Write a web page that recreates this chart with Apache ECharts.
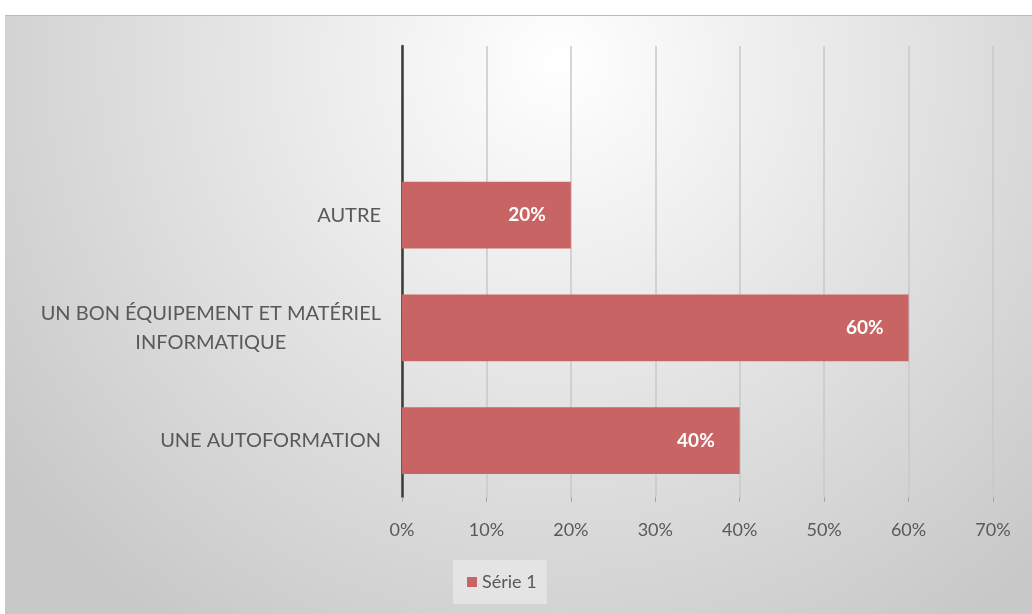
<!DOCTYPE html>
<html>
<head>
<meta charset="utf-8">
<script src="https://cdn.jsdelivr.net/npm/echarts@6/dist/echarts.min.js"></script>
<style>
  html, body { margin: 0; padding: 0; background: #fff; }
  #chart {
    position: absolute;
    left: 5px;
    top: 15px;
    width: 1027px;
    height: 599px;
    border-top: 1px solid #b8b8b8;
    box-sizing: border-box;
  }
</style>
</head>
<body>
<div id="chart"></div>
<script>
const categories = [
  'UNE AUTOFORMATION',
  'UN BON ÉQUIPEMENT ET MATÉRIEL\nINFORMATIQUE',
  'AUTRE',
  ''
]
const serie1 = [40, 60, 20, null]
const tickValues = [0, 10, 20, 30, 40, 50, 60, 70]

const font = 'Lato, "Open Sans", sans-serif'
const catFontSize = 20

// width of the longest line, so multi-line labels can be centred on themselves
function textWidth(text) {
  const ctx = document.createElement('canvas').getContext('2d')
  ctx.font = catFontSize + 'px ' + font
  return Math.max(...text.split('\n').map(s => ctx.measureText(s).width))
}

const yData = categories.map(c => {
  if (!c.includes('\n')) return c
  return { value: c, textStyle: { align: 'center', padding: [0, textWidth(c), 0, 0] } }
})

const chart = echarts.init(document.getElementById('chart'))

chart.setOption({
  backgroundColor: {
    type: 'radial',
    x: 0.54,
    y: 0.075,
    r: 1.15,
    colorStops: [
      { offset: 0, color: '#ffffff' },
      { offset: 1, color: '#c8c8c8' }
    ]
  },
  textStyle: { fontFamily: font },
  grid: { left: 397, right: 39, top: 30, bottom: 117 },
  legend: {
    left: 448,
    top: 544,
    icon: 'rect',
    itemWidth: 10,
    itemHeight: 10,
    itemGap: 4,
    padding: [13, 10, 13, 14],
    backgroundColor: 'rgba(240,240,240,0.55)',
    textStyle: { color: '#595959', fontSize: 18, fontFamily: font },
    data: ['Série 1']
  },
  xAxis: {
    type: 'value',
    min: 0,
    max: 70,
    interval: 10,
    axisLine: { show: false },
    axisTick: { show: true, length: 5, lineStyle: { color: '#a6a6a6' } },
    axisLabel: {
      color: '#595959',
      fontSize: 18,
      margin: 24,
      formatter: v => (tickValues.includes(v) ? v + '%' : '')
    },
    splitLine: { lineStyle: { color: '#c8c8c8', width: 1.5 } }
  },
  yAxis: {
    type: 'category',
    data: yData,
    axisLine: { show: true, lineStyle: { color: '#3a3a3a', width: 2.5 } },
    axisTick: { show: false },
    axisLabel: {
      color: '#595959',
      fontSize: catFontSize,
      lineHeight: 29,
      margin: 21
    }
  },
  series: [
    {
      name: 'Série 1',
      type: 'bar',
      data: serie1,
      barCategoryGap: '41%',
      itemStyle: { color: '#c96464' },
      label: {
        show: true,
        position: 'insideRight',
        distance: 25,
        color: '#ffffff',
        fontWeight: 'bold',
        fontSize: 19,
        fontFamily: font,
        formatter: p => p.value + '%'
      }
    }
  ]
})
</script>
</body>
</html>
